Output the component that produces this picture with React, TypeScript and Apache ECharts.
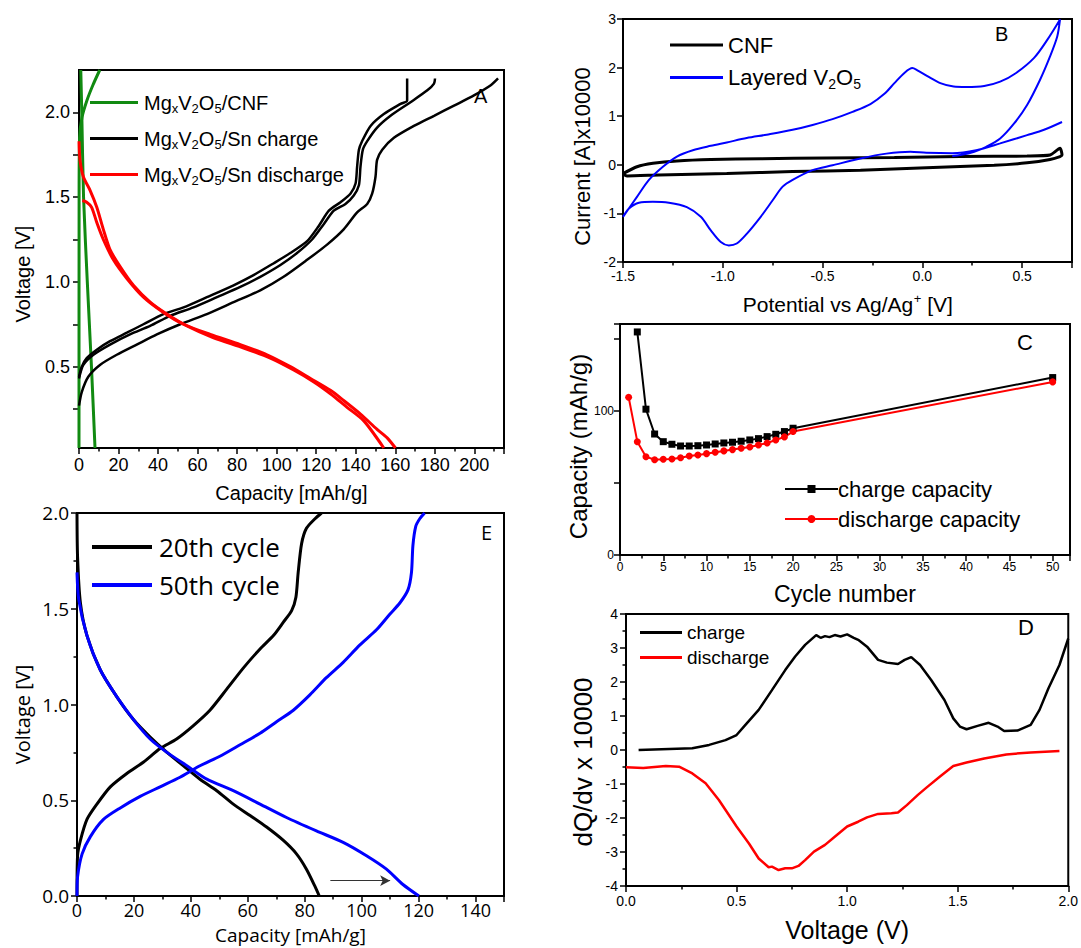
import React, { useEffect, useRef } from 'react';
import * as echarts from 'echarts';

// ---------- Panel A: Mg_xV2O5 voltage profiles ----------
const aCnfCharge = [[0, 0.02], [0.05, 1.5], [0.3, 1.85], [1.5, 1.97], [4, 2.07], [7, 2.16], [10.5, 2.25]];
const aCnfDischarge = [[0.9, 2.25], [1.4, 2.0], [2.3, 1.5], [4.2, 1.0], [6.3, 0.5], [8.1, 0.02]];
const aCharge1 = [[0, 0.44], [1.4, 0.5], [3.9, 0.55], [9, 0.6], [15.7, 0.65], [24.2, 0.7], [32.6, 0.75], [42.7, 0.81], [52.9, 0.85], [64.7, 0.91], [78.2, 0.98], [88.3, 1.04], [98.5, 1.11], [106.9, 1.17], [115.4, 1.24], [121.3, 1.33], [126.4, 1.42], [132.3, 1.47], [137.3, 1.52], [139.9, 1.58], [140.7, 1.68], [141.6, 1.78], [143.2, 1.83], [147.5, 1.92], [154.2, 1.99], [162.7, 2.05], [166, 2.07], [166, 2.2]];
const aCharge2 = [[0, 0.43], [2.2, 0.51], [7.3, 0.57], [15.7, 0.63], [25.8, 0.69], [36, 0.74], [46.1, 0.8], [57.9, 0.85], [69.8, 0.91], [81.6, 0.97], [91.7, 1.03], [101.9, 1.1], [110.3, 1.17], [117.9, 1.25], [123.8, 1.34], [128.9, 1.42], [134.8, 1.46], [139, 1.51], [141.6, 1.57], [142.4, 1.68], [143.6, 1.78], [145.8, 1.83], [150.8, 1.91], [157.6, 1.98], [167.7, 2.06], [176.2, 2.13], [179.6, 2.17], [180.1, 2.2]];
const aCharge3 = [[0, 0.27], [1.4, 0.35], [4.7, 0.44], [10.6, 0.51], [19.1, 0.57], [29.2, 0.63], [39.4, 0.69], [51.2, 0.75], [64.7, 0.81], [78.2, 0.88], [91.7, 0.95], [103.5, 1.03], [115.4, 1.13], [125.5, 1.22], [133.9, 1.31], [140.7, 1.41], [145.8, 1.46], [148.3, 1.52], [150, 1.62], [150.8, 1.72], [153.4, 1.78], [159.3, 1.85], [169.4, 1.92], [179.6, 1.98], [189.7, 2.04], [199.8, 2.1], [208.3, 2.16], [212, 2.2]];
const aDischarge1 = [[0, 1.83], [0.5, 1.72], [2.2, 1.62], [5.6, 1.54], [9, 1.44], [12.3, 1.31], [15.7, 1.19], [20.8, 1.09], [27.5, 0.98], [36, 0.88], [44.4, 0.81], [54.6, 0.74], [68.1, 0.67], [83.3, 0.61], [96.8, 0.55], [108.6, 0.48], [118.8, 0.41], [127.2, 0.34], [135.6, 0.26], [144.1, 0.18], [154.2, 0.02]];
const aDischarge2 = [[1.7, 1.48], [3.9, 1.47], [6.4, 1.44], [9, 1.35], [12.3, 1.25], [17.4, 1.13], [24.2, 1.02], [32.6, 0.91], [42.7, 0.82], [52.9, 0.75], [66.4, 0.69], [81.6, 0.63], [95.1, 0.57], [106.9, 0.5], [117.1, 0.43], [127.2, 0.36], [133.9, 0.3], [142.4, 0.22], [150.8, 0.13], [155.9, 0.08], [160.1, 0.02]];

// ---------- Panel B: cyclic voltammetry ----------
const bCnf = [[-1.5, -0.18], [-1.43, -0.04], [-1.35, 0.03], [-1.23, 0.08], [-1.06, 0.11], [-0.81, 0.125], [-0.48, 0.14], [-0.14, 0.15], [0.19, 0.17], [0.525, 0.18], [0.64, 0.2], [0.69, 0.34], [0.7, 0.2], [0.69, 0.17], [0.64, 0.11], [0.525, 0.04], [0.36, -0.01], [0.02, -0.06], [-0.31, -0.11], [-0.65, -0.14], [-0.98, -0.18], [-1.32, -0.21], [-1.48, -0.23], [-1.5, -0.19]];
const bV2O5 = [[0.7, 0.88], [0.61, 0.72], [0.525, 0.61], [0.39, 0.44], [0.27, 0.3], [0.15, 0.24], [0.02, 0.25], [-0.06, 0.27], [-0.18, 0.23], [-0.31, 0.13], [-0.45, -0.01], [-0.55, -0.11], [-0.65, -0.31], [-0.7, -0.45], [-0.75, -0.73], [-0.81, -1.07], [-0.88, -1.42], [-0.93, -1.62], [-0.97, -1.66], [-1.01, -1.59], [-1.06, -1.35], [-1.11, -1.07], [-1.18, -0.87], [-1.27, -0.78], [-1.35, -0.76], [-1.42, -0.78], [-1.47, -0.9], [-1.5, -1.07], [-1.43, -0.66], [-1.37, -0.31], [-1.3, -0.04], [-1.23, 0.17], [-1.15, 0.3], [-1.06, 0.39], [-0.98, 0.46], [-0.88, 0.55], [-0.78, 0.62], [-0.65, 0.72], [-0.55, 0.82], [-0.45, 0.94], [-0.35, 1.09], [-0.26, 1.25], [-0.19, 1.46], [-0.14, 1.68], [-0.09, 1.89], [-0.05, 1.99], [-0.027, 1.95], [0.023, 1.83], [0.09, 1.68], [0.157, 1.61], [0.22, 1.6], [0.31, 1.62], [0.39, 1.71], [0.47, 1.89], [0.56, 2.2], [0.626, 2.57], [0.69, 2.99], [0.676, 2.64], [0.64, 2.23], [0.59, 1.75], [0.525, 1.23], [0.46, 0.85], [0.39, 0.54], [0.32, 0.37], [0.26, 0.27], [0.19, 0.2], [0.15, 0.18]];

// ---------- Panel C: cycling ----------
const cChargeCycles = [2, 3, 4, 5, 6, 7, 8, 9, 10, 11, 12, 13, 14, 15, 16, 17, 18, 19, 20, 50];
const cChargeValues = [154.5, 101, 83.8, 78.5, 76.7, 75.5, 75.5, 75.7, 76.2, 76.9, 77.6, 78.1, 78.8, 79.7, 80.6, 82, 83.6, 85.5, 87.8, 122.9];
const cDischargeCycles = [1, 2, 3, 4, 5, 6, 7, 8, 9, 10, 11, 12, 13, 14, 15, 16, 17, 18, 19, 20, 50];
const cDischargeValues = [109.3, 78.5, 68.1, 66, 66.3, 66.5, 67.4, 68.6, 69.3, 70.2, 71.2, 72.1, 73, 73.9, 74.8, 76.2, 77.6, 79.7, 81.8, 85.5, 119.9];

// ---------- Panel D: differential capacity ----------
const dCharge = [[0.057, 0], [0.3, 0.05], [0.376, 0.15], [0.45, 0.29], [0.5, 0.44], [0.54, 0.74], [0.6, 1.18], [0.66, 1.76], [0.72, 2.35], [0.765, 2.75], [0.81, 3.09], [0.86, 3.38], [0.88, 3.3], [0.9, 3.35], [0.92, 3.32], [0.944, 3.38], [0.97, 3.34], [1.0, 3.4], [1.03, 3.3], [1.05, 3.24], [1.09, 3.04], [1.14, 2.65], [1.18, 2.57], [1.23, 2.53], [1.26, 2.65], [1.29, 2.73], [1.33, 2.5], [1.38, 2.06], [1.44, 1.47], [1.48, 0.93], [1.51, 0.69], [1.54, 0.61], [1.59, 0.71], [1.64, 0.8], [1.68, 0.69], [1.71, 0.56], [1.77, 0.57], [1.83, 0.74], [1.87, 1.18], [1.91, 1.81], [1.96, 2.5], [2.0, 3.28]];
const dDischarge = [[0, -0.51], [0.078, -0.53], [0.18, -0.47], [0.24, -0.49], [0.3, -0.69], [0.36, -0.98], [0.42, -1.47], [0.5, -2.25], [0.556, -2.75], [0.6, -3.19], [0.645, -3.45], [0.66, -3.43], [0.69, -3.53], [0.72, -3.48], [0.75, -3.48], [0.78, -3.41], [0.81, -3.24], [0.85, -2.99], [0.9, -2.79], [0.944, -2.55], [1.0, -2.25], [1.05, -2.11], [1.09, -1.98], [1.14, -1.88], [1.2, -1.86], [1.23, -1.84], [1.27, -1.62], [1.32, -1.32], [1.36, -1.1], [1.42, -0.78], [1.48, -0.47], [1.54, -0.37], [1.62, -0.25], [1.72, -0.13], [1.83, -0.07], [1.96, -0.03]];

// ---------- Panel E: 20th / 50th cycle ----------
const e20Charge = [[0, 0], [0.2, 0.21], [1.2, 0.29], [3.5, 0.4], [7, 0.48], [11.7, 0.57], [17.5, 0.64], [23.4, 0.7], [29.2, 0.77], [35, 0.82], [40.9, 0.89], [46.7, 0.97], [52.6, 1.08], [58.4, 1.19], [64.3, 1.29], [69, 1.36], [72.5, 1.43], [75.4, 1.49], [76.9, 1.56], [77.7, 1.69], [78.9, 1.84], [80.6, 1.92], [83.6, 1.97], [85.9, 2.0]];
const e20Discharge = [[0, 2.0], [0.2, 1.77], [1.2, 1.53], [3.5, 1.36], [8.2, 1.18], [14, 1.04], [19.9, 0.92], [25.7, 0.83], [31.6, 0.75], [37.4, 0.68], [43.2, 0.61], [49.1, 0.55], [54.9, 0.48], [60.8, 0.42], [66.6, 0.36], [72.5, 0.29], [77.1, 0.22], [80.6, 0.14], [83.6, 0.05], [85.1, 0]];
const e50Charge = [[0, 0], [0.2, 0.1], [1.8, 0.22], [4.7, 0.31], [9.3, 0.4], [15.2, 0.46], [22.2, 0.52], [29.2, 0.57], [36.2, 0.62], [43.2, 0.68], [50.2, 0.73], [57.3, 0.79], [64.3, 0.85], [70.1, 0.91], [76, 0.97], [81.8, 1.05], [87.6, 1.14], [93.5, 1.22], [99.3, 1.31], [105.2, 1.39], [109.8, 1.47], [113.4, 1.53], [116.3, 1.6], [117.5, 1.69], [118, 1.83], [119, 1.93], [120.4, 1.97], [122.1, 2.0]];
const e50Discharge = [[0, 1.69], [0.6, 1.55], [3.5, 1.36], [8.2, 1.18], [14, 1.04], [19.9, 0.92], [25.7, 0.82], [31.6, 0.75], [38.6, 0.68], [45.6, 0.61], [54.9, 0.55], [64.3, 0.48], [73.6, 0.41], [84.1, 0.34], [93.5, 0.28], [101.7, 0.21], [108.7, 0.14], [114.5, 0.06], [120.1, 0]];
const eArrow = [[89, 0.08], [110, 0.08]];

const GREEN = '#118a11';
const RED = '#ff0000';
const BLUE = '#0000ff';
const FONT = 'Liberation Sans, Arial, sans-serif';
const EFONT = 'Open Sans, Liberation Sans, sans-serif';

function axisBase(fontSize: number, family = FONT) {
  return {
    type: 'value',
    axisLine: { show: true, onZero: false, lineStyle: { color: '#000', width: 2 } },
    axisTick: { show: true, length: 6, lineStyle: { color: '#000', width: 1.5 } },
    minorTick: { show: true, splitNumber: 2, length: 3.5, lineStyle: { color: '#000', width: 1.5 } },
    splitLine: { show: false },
    minorSplitLine: { show: false },
    axisLabel: { color: '#000', fontSize, fontFamily: family },
    nameTextStyle: { color: '#000', fontFamily: family },
    nameLocation: 'middle',
  };
}

const mgRich = {
  n: { fontSize: 20, color: '#000', fontFamily: FONT, lineHeight: 26 },
  s: { fontSize: 13, color: '#000', fontFamily: FONT, padding: [12, 0, 0, 0], lineHeight: 26 },
};

function mgLabel(name: string) {
  return '{n|Mg}{s|x}{n|V}{s|2}{n|O}{s|5}{n|' + name.slice(7) + '}';
}

export default function App() {
  const ref = useRef<HTMLDivElement>(null);
  useEffect(() => {
    if (!ref.current) return;
    const chart = echarts.init(ref.current, undefined, { renderer: 'svg' });
    const gridBase = { show: true, borderColor: '#000', borderWidth: 2, backgroundColor: 'transparent' };
    const lineS = (name: string, data: number[][], color: string, idx: number, width = 2.5, extra: any = {}) => ({
      type: 'line', name, data, xAxisIndex: idx, yAxisIndex: idx, symbol: 'none', smooth: 0.25,
      lineStyle: { color, width }, itemStyle: { color }, ...extra,
    });
    const option: any = {
      animation: false,
      textStyle: { fontFamily: FONT },
      grid: [
        { ...gridBase, left: 79, top: 70, width: 425, height: 378 },
        { ...gridBase, left: 623, top: 19, width: 449, height: 243 },
        { ...gridBase, left: 620, top: 324, width: 450, height: 231 },
        { ...gridBase, left: 626, top: 614, width: 446, height: 272 },
        { ...gridBase, left: 77, top: 513, width: 427, height: 383 },
      ],
      xAxis: [
        { ...axisBase(18), gridIndex: 0, min: 0, max: 215, interval: 20, name: 'Capacity [mAh/g]', nameGap: 35,
          nameTextStyle: { color: '#000', fontSize: 20, fontFamily: FONT },
          axisLabel: { color: '#000', fontSize: 18, margin: 8, showMaxLabel: false } },
        { ...axisBase(14), gridIndex: 1, min: -1.5, max: 0.75, interval: 0.5, name: 'Potential vs Ag/Ag{p|+} [V]', nameGap: 30,
          nameTextStyle: { color: '#000', fontSize: 21, fontFamily: FONT, rich: { p: { fontSize: 13, fontFamily: FONT, color: '#000', padding: [0, 0, 12, 0] } } },
          axisLabel: { color: '#000', fontSize: 14, margin: 7, showMaxLabel: false, formatter: (v: number) => v.toFixed(1) } },
        { ...axisBase(12), gridIndex: 2, min: 0, max: 52, interval: 5, name: 'Cycle number', nameGap: 27,
          nameTextStyle: { color: '#000', fontSize: 23, fontFamily: FONT },
          axisLabel: { color: '#000', fontSize: 12, margin: 6, showMaxLabel: false } },
        { ...axisBase(14), gridIndex: 3, min: 0, max: 2, interval: 0.5, name: 'Voltage (V)', nameGap: 31,
          nameTextStyle: { color: '#000', fontSize: 25, fontFamily: FONT },
          axisLabel: { color: '#000', fontSize: 14, margin: 8, formatter: (v: number) => v.toFixed(1) } },
        { ...axisBase(18, EFONT), gridIndex: 4, min: 0, max: 150, interval: 20, name: 'Capacity [mAh/g]', nameGap: 29,
          nameTextStyle: { color: '#000', fontSize: 19, fontFamily: EFONT },
          axisLabel: { color: '#000', fontSize: 18, fontFamily: EFONT, margin: 5, showMaxLabel: false } },
      ],
      yAxis: [
        { ...axisBase(18), gridIndex: 0, min: 0.02, max: 2.25, name: 'Voltage [V]', nameGap: 46,
          nameTextStyle: { color: '#000', fontSize: 20, fontFamily: FONT, padding: [0, 30, 0, 0] },
          minorTick: { show: false },
          axisTick: { show: true, length: 6, lineStyle: { color: '#000', width: 1.5 }, customValues: [0.25, 0.5, 0.75, 1, 1.25, 1.5, 1.75, 2] },
          axisLabel: { color: '#000', fontSize: 18, margin: 9, customValues: [0.5, 1, 1.5, 2], formatter: (v: number) => v.toFixed(1) } },
        { ...axisBase(14), gridIndex: 1, min: -2, max: 3, interval: 1, name: 'Current [A]x10000', nameGap: 30,
          nameTextStyle: { color: '#000', fontSize: 22, fontFamily: FONT, padding: [0, 32, 0, 0] },
          minorTick: { show: false },
          axisLabel: { color: '#000', fontSize: 14, margin: 7 } },
        { ...axisBase(12), gridIndex: 2, min: 0, max: 160, interval: 50, name: 'Capacity (mAh/g)', nameGap: 27,
          nameTextStyle: { color: '#000', fontSize: 24, fontFamily: FONT, padding: [0, 14, 0, 0] },
          minorTick: { show: false },
          axisLabel: { color: '#000', fontSize: 12, margin: 6, formatter: (v: number) => (v === 0 || v === 100 ? String(v) : '') } },
        { ...axisBase(14), gridIndex: 3, min: -4, max: 4, interval: 1, name: 'dQ/dv x 10000', nameGap: 30,
          nameTextStyle: { color: '#000', fontSize: 26, fontFamily: FONT, padding: [0, 24, 0, 0] },
          axisLabel: { color: '#000', fontSize: 14, margin: 8 } },
        { ...axisBase(19, EFONT), gridIndex: 4, min: 0, max: 2, interval: 0.5, name: 'Voltage [V]', nameGap: 45,
          nameTextStyle: { color: '#000', fontSize: 20, fontFamily: EFONT, padding: [0, 20, 0, 0] },
          axisLabel: { color: '#000', fontSize: 19, fontFamily: EFONT, margin: 8, formatter: (v: number) => v.toFixed(1) } },
      ],
      legend: [
        { left: 90, top: 90, orient: 'vertical', padding: 0, itemGap: 11, itemWidth: 48, itemHeight: 3, icon: 'rect',
          data: ['MgxV2O5/CNF', 'MgxV2O5/Sn charge', 'MgxV2O5/Sn discharge'],
          formatter: mgLabel, textStyle: { rich: mgRich, padding: [0, 0, 0, 1] } },
        { left: 670, top: 34, orient: 'vertical', padding: 0, itemGap: 8, itemWidth: 53, itemHeight: 3, icon: 'rect',
          data: ['CNF', 'Layered V2O5'],
          formatter: (n: string) => (n === 'CNF' ? '{n|CNF}' : '{n|Layered V}{s|2}{n|O}{s|5}'),
          textStyle: { rich: {
            n: { fontSize: 22, color: '#000', fontFamily: FONT, lineHeight: 26 },
            s: { fontSize: 14, color: '#000', fontFamily: FONT, padding: [13, 0, 0, 0], lineHeight: 26 },
          } } },
        { left: 784, top: 478, orient: 'vertical', padding: 0, itemGap: 8, itemWidth: 53, itemHeight: 10,
          data: ['charge capacity', 'discharge capacity'],
          textStyle: { fontSize: 22, color: '#000', fontFamily: FONT, padding: [0, 0, 0, -5] } },
        { left: 640, top: 623, orient: 'vertical', padding: 0, itemGap: 6, itemWidth: 42, itemHeight: 3, icon: 'rect',
          data: ['charge', 'discharge'],
          textStyle: { fontSize: 19, color: '#000', fontFamily: FONT } },
        { left: 92, top: 534, orient: 'vertical', padding: 0, itemGap: 12, itemWidth: 60, itemHeight: 4, icon: 'rect',
          data: ['20th cycle', '50th cycle'],
          textStyle: { fontSize: 26, color: '#000', fontFamily: EFONT, padding: [0, 0, 0, 2] } },
      ],
      series: [
        lineS('MgxV2O5/CNF', aCnfCharge, GREEN, 0, 3),
        lineS('MgxV2O5/CNF', aCnfDischarge, GREEN, 0, 3),
        lineS('MgxV2O5/Sn charge', aCharge1, '#000', 0, 2.5),
        lineS('MgxV2O5/Sn charge', aCharge2, '#000', 0, 2.5),
        lineS('MgxV2O5/Sn charge', aCharge3, '#000', 0, 2.5),
        lineS('MgxV2O5/Sn discharge', aDischarge1, RED, 0, 3),
        lineS('MgxV2O5/Sn discharge', aDischarge2, RED, 0, 3),

        lineS('CNF', bCnf, '#000', 1, 3, { smooth: 0.2 }),
        lineS('Layered V2O5', bV2O5, BLUE, 1, 2, { smooth: 0.3 }),

        { type: 'line', name: 'charge capacity', xAxisIndex: 2, yAxisIndex: 2,
          data: cChargeCycles.map((c, i) => [c, cChargeValues[i]]),
          symbol: 'rect', symbolSize: 7, lineStyle: { color: '#000', width: 2 }, itemStyle: { color: '#000' } },
        { type: 'line', name: 'discharge capacity', xAxisIndex: 2, yAxisIndex: 2,
          data: cDischargeCycles.map((c, i) => [c, cDischargeValues[i]]),
          symbol: 'circle', symbolSize: 7, lineStyle: { color: RED, width: 2 }, itemStyle: { color: RED } },

        lineS('charge', dCharge, '#000', 3, 2.5, { smooth: false }),
        lineS('discharge', dDischarge, RED, 3, 2.5, { smooth: false }),

        lineS('20th cycle', e20Charge, '#000', 4, 3),
        lineS('20th cycle', e20Discharge, '#000', 4, 3),
        lineS('50th cycle', e50Charge, BLUE, 4, 3),
        lineS('50th cycle', e50Discharge, BLUE, 4, 3),
        { type: 'line', name: 'arrow', xAxisIndex: 4, yAxisIndex: 4, data: [], symbol: 'none',
          markLine: { silent: true, symbol: ['none', 'arrow'], symbolSize: [8, 10], label: { show: false },
            lineStyle: { color: '#333', width: 1, type: 'solid' },
            data: [[{ coord: eArrow[0] }, { coord: eArrow[1] }]] } },
      ],
      graphic: [
        { type: 'text', left: 474, top: 86, style: { text: 'A', fontSize: 20, fill: '#000', fontFamily: FONT } },
        { type: 'text', left: 995, top: 24, style: { text: 'B', fontSize: 20, fill: '#000', fontFamily: FONT } },
        { type: 'text', left: 1017, top: 331, style: { text: 'C', fontSize: 22, fill: '#000', fontFamily: FONT } },
        { type: 'text', left: 1018, top: 616, style: { text: 'D', fontSize: 22, fill: '#000', fontFamily: FONT } },
        { type: 'text', left: 481, top: 522, style: { text: 'E', fontSize: 20, fill: '#000', fontFamily: EFONT } },
      ],
    };
    chart.setOption(option);
    return () => chart.dispose();
  }, []);
  return <div ref={ref} style={{ position: 'fixed', left: 0, top: 0, width: 1081, height: 948, background: '#fff' }} />;
}
